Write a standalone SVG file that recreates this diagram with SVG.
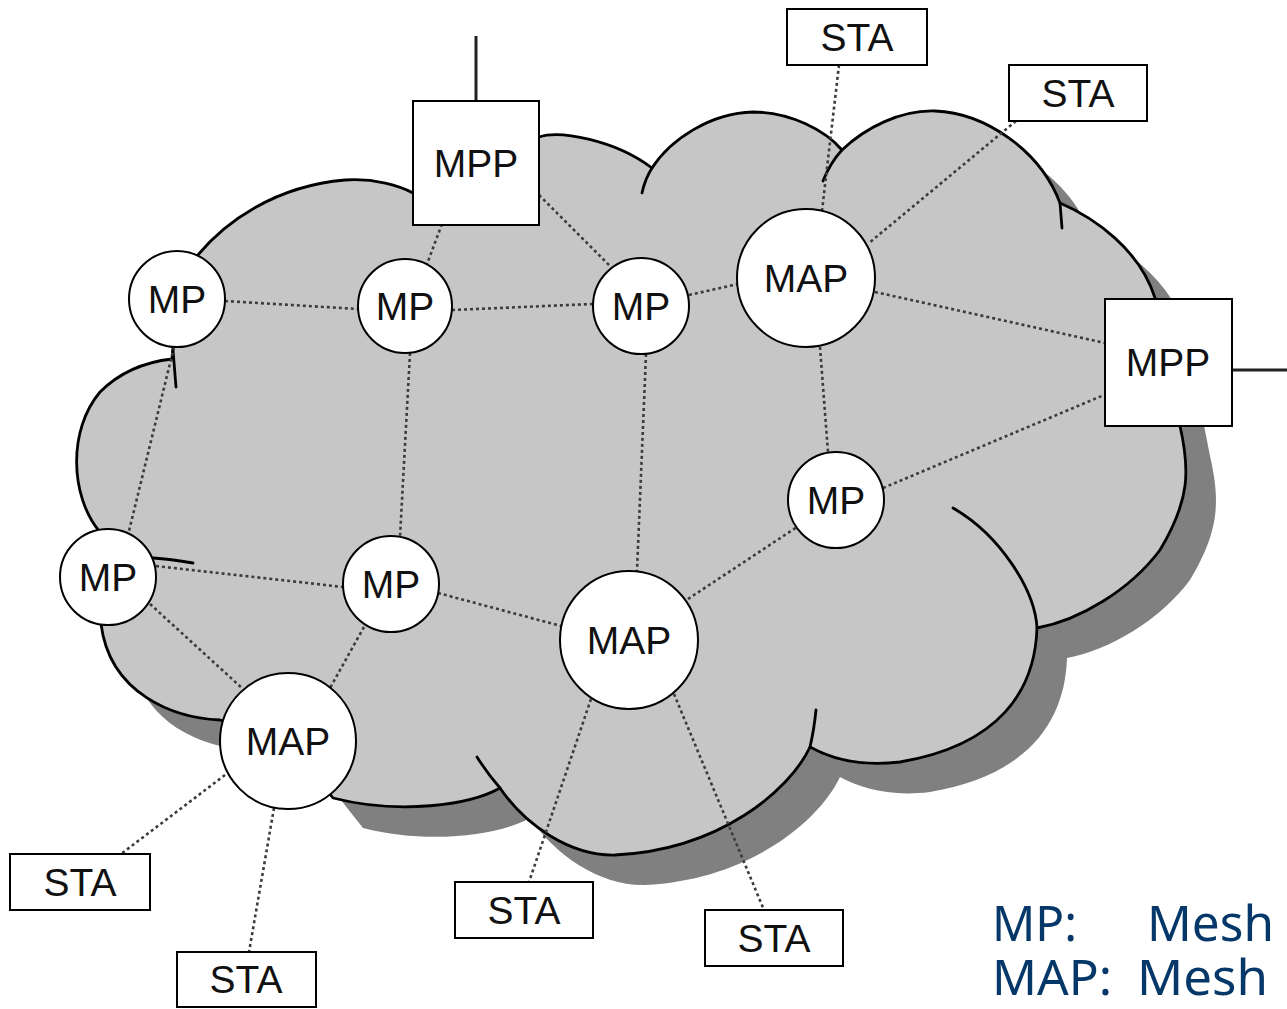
<svg xmlns="http://www.w3.org/2000/svg" xmlns:xlink="http://www.w3.org/1999/xlink" width="1287" height="1009" viewBox="0 0 1287 1009">
<style>
.shadow{fill:#808080;stroke:none}
.cloudfill{fill:#c6c6c6;stroke:#000;stroke-width:2.8;stroke-linejoin:round}
.tail{fill:none;stroke:#000;stroke-width:2.8;stroke-linecap:round}
.link{fill:none;stroke:#3c3c3c;stroke-width:2.6;stroke-dasharray:3 3}
.uplink{fill:none;stroke:#222;stroke-width:3}
.node{fill:#fff;stroke:#000;stroke-width:2}
.lbl{font-family:'Liberation Sans',Arial,sans-serif;font-size:39px;text-anchor:middle;fill:#111}
.legend{font-family:'Comic Sans MS','Noto Sans',sans-serif;font-size:49px;fill:#053769}
</style>
<defs>
<path id="cloudPath" d="M 177 300 L 197 256 C 225 222, 275 186, 345 180 C 375 178, 400 186, 413 193 L 476 165 L 539 137 C 560 130, 615 140, 652 168 C 670 140, 710 113, 753 112 C 790 112, 825 130, 842 150 C 865 128, 900 110, 935 111 C 985 113, 1040 150, 1060 203 C 1095 218, 1140 250, 1155 298 L 1180 426 C 1190 470, 1190 500, 1160 550 C 1130 590, 1080 620, 1037 628 C 1035 690, 1000 745, 900 762 C 860 767, 830 758, 810 747 C 790 790, 720 850, 615 855 C 570 856, 525 825, 500 788 C 470 805, 400 815, 333 798 L 288 741 L 220 720 C 175 718, 110 695, 101 624 L 108 577 L 99 531 C 70 495, 68 430, 100 392 C 120 372, 145 362, 172 359 L 173 347 Z"/>
</defs>
<g id="cloud">
<use xlink:href="#cloudPath" href="#cloudPath" class="shadow" transform="translate(30,30)"/>
<use xlink:href="#cloudPath" href="#cloudPath" class="cloudfill"/>
<path class="tail" d="M 652 168 Q 645 179 642 193"/>
<path class="tail" d="M 842 150 Q 830 163 823 181"/>
<path class="tail" d="M 1060 203 L 1062 228"/>
<path class="tail" d="M 173 350 L 176 387"/>
<path class="tail" d="M 153 558 Q 170 559 193 563"/>
<path class="tail" d="M 1037 628 C 1035 590, 1000 535, 953 508"/>
<path class="tail" d="M 810 747 Q 814 730 816 710"/>
<path class="tail" d="M 500 788 Q 487 773 477 757"/>
</g>
<g id="connectors">
<path class="link" d="M 442 224 L 427 264"/>
<path class="link" d="M 539 195 L 612 268"/>
<path class="link" d="M 225 301 L 358 309"/>
<path class="link" d="M 452 310 L 593 304"/>
<path class="link" d="M 689 295 L 738 284"/>
<path class="link" d="M 839 65 L 822 211"/>
<path class="link" d="M 1016 121 L 869 243"/>
<path class="link" d="M 875 292 L 1105 343"/>
<path class="link" d="M 820 347 L 828 452"/>
<path class="link" d="M 883 488 L 1104 395"/>
<path class="link" d="M 646 354 L 637 571"/>
<path class="link" d="M 410 353 L 400 537"/>
<path class="link" d="M 174 347 L 129 531"/>
<path class="link" d="M 156 566 L 343 587"/>
<path class="link" d="M 438 593 L 561 626"/>
<path class="link" d="M 688 599 L 797 527"/>
<path class="link" d="M 150 604 L 243 689"/>
<path class="link" d="M 364 627 L 330 688"/>
<path class="link" d="M 225 775 L 121 854"/>
<path class="link" d="M 274 808 L 249 952"/>
<path class="link" d="M 591 699 L 529 882"/>
<path class="link" d="M 674 694 L 764 910"/>
<path class="uplink" d="M 476 36 L 476 101"/>
<path class="uplink" d="M 1232 370 L 1287 370"/>
</g>
<g id="mpp-top"><rect class="node" x="413" y="101" width="126" height="124"/><text class="lbl" x="476" y="177">MPP</text></g>
<g id="mpp-right"><rect class="node" x="1105" y="299" width="127" height="127"/><text class="lbl" x="1168" y="376">MPP</text></g>
<g id="mp1"><circle class="node" cx="177" cy="299" r="48"/><text class="lbl" x="177" y="313">MP</text></g>
<g id="mp2"><circle class="node" cx="405" cy="306" r="47"/><text class="lbl" x="405" y="320">MP</text></g>
<g id="mp3"><circle class="node" cx="641" cy="306" r="48"/><text class="lbl" x="641" y="320">MP</text></g>
<g id="map1"><circle class="node" cx="806" cy="278" r="69"/><text class="lbl" x="806" y="292">MAP</text></g>
<g id="mp4"><circle class="node" cx="836" cy="500" r="48"/><text class="lbl" x="836" y="514">MP</text></g>
<g id="mp5"><circle class="node" cx="108" cy="577" r="48"/><text class="lbl" x="108" y="591">MP</text></g>
<g id="mp6"><circle class="node" cx="391" cy="584" r="48"/><text class="lbl" x="391" y="598">MP</text></g>
<g id="map2"><circle class="node" cx="629" cy="640" r="69"/><text class="lbl" x="629" y="654">MAP</text></g>
<g id="map3"><circle class="node" cx="288" cy="741" r="68"/><text class="lbl" x="288" y="755">MAP</text></g>
<g id="sta-top"><rect class="node" x="787" y="9" width="140" height="56"/><text class="lbl" x="857" y="51">STA</text></g>
<g id="sta-topright"><rect class="node" x="1009" y="65" width="138" height="56"/><text class="lbl" x="1078" y="107">STA</text></g>
<g id="sta-bl1"><rect class="node" x="10" y="854" width="140" height="56"/><text class="lbl" x="80" y="896">STA</text></g>
<g id="sta-bl2"><rect class="node" x="177" y="952" width="139" height="55"/><text class="lbl" x="246" y="993">STA</text></g>
<g id="sta-bm"><rect class="node" x="455" y="882" width="138" height="56"/><text class="lbl" x="524" y="924">STA</text></g>
<g id="sta-br"><rect class="node" x="705" y="910" width="138" height="56"/><text class="lbl" x="774" y="952">STA</text></g>
<g id="legend">
<text class="legend" x="992" y="941" textLength="85" lengthAdjust="spacingAndGlyphs">MP:</text>
<text class="legend" x="1147" y="941" textLength="127" lengthAdjust="spacingAndGlyphs">Mesh</text>
<text class="legend" x="992" y="995" textLength="120" lengthAdjust="spacingAndGlyphs">MAP:</text>
<text class="legend" x="1137" y="995" textLength="131" lengthAdjust="spacingAndGlyphs">Mesh</text>
</g>
</svg>
